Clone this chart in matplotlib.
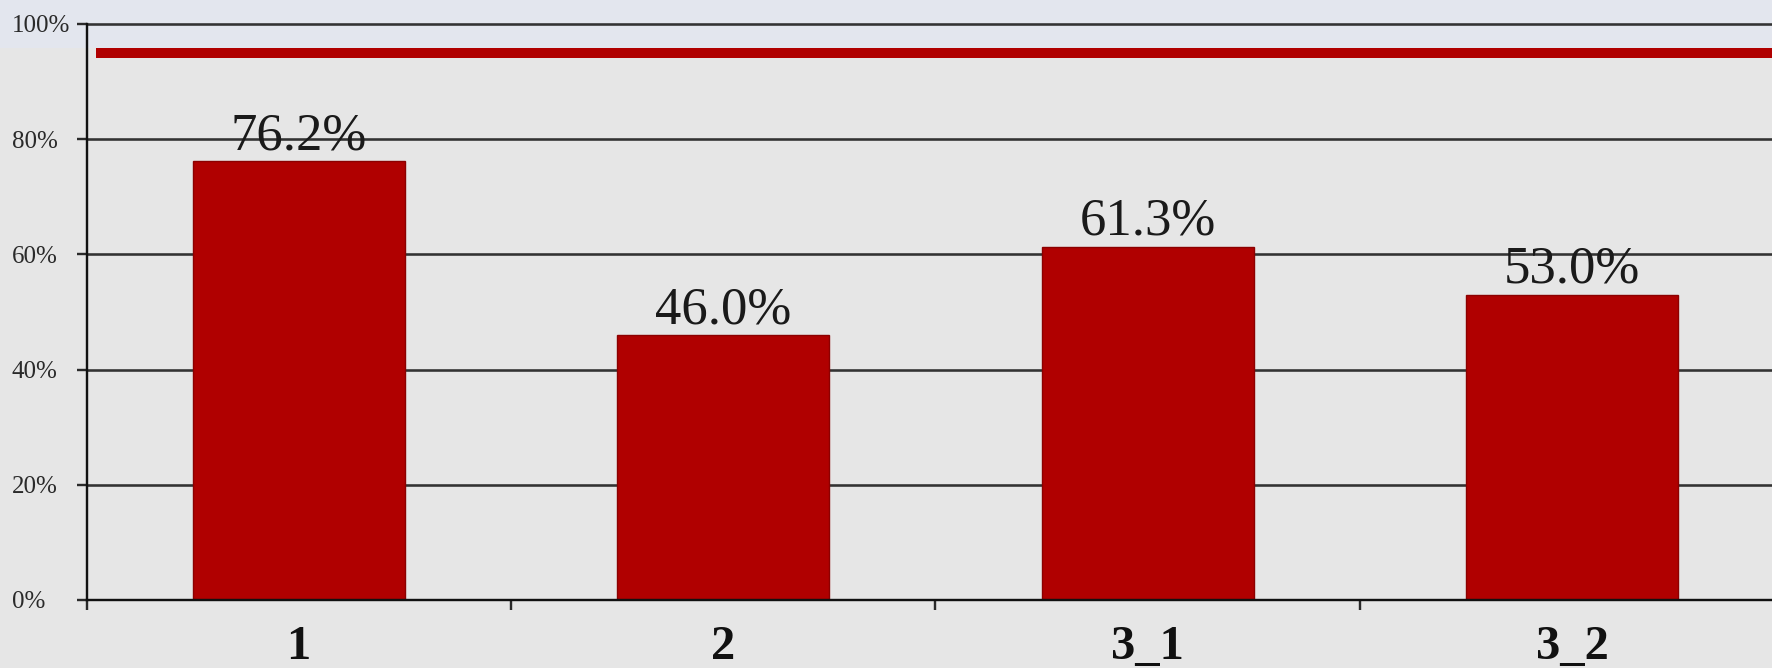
import matplotlib
matplotlib.use("Agg")
import matplotlib.pyplot as plt
from matplotlib.patches import Rectangle
from matplotlib.lines import Line2D
import matplotlib.transforms as mtransforms

categories = ["1", "2", "3_1", "3_2"]
values = [76.2, 46.0, 61.3, 53.0]
value_labels = ["76.2%", "46.0%", "61.3%", "53.0%"]
yticks = [0, 20, 40, 60, 80, 100]
ytick_labels = ["0%", "20%", "40%", "60%", "80%", "100%"]

W, H, DPI = 1772, 668, 100
fig = plt.figure(figsize=(W / DPI, H / DPI), dpi=DPI)
fig.patch.set_facecolor("#e6e6e6")

# top light band and red rule (slide decoration)
fig.patches.append(Rectangle((0, 1 - 48 / H), 1, 48 / H, transform=fig.transFigure,
                             facecolor="#e3e6ee", edgecolor="none", zorder=-5))
fig.lines.append(Line2D([96 / W, 1], [1 - 53 / H, 1 - 53 / H], transform=fig.transFigure,
                        color="#b00000", linewidth=10 * 72 / DPI, solid_capstyle="butt", zorder=10))

left_px, right_px = 86.5, 1784.5
bottom_px, top_px = 600, 24
ax = fig.add_axes([left_px / W, 1 - bottom_px / H, (right_px - left_px) / W, (bottom_px - top_px) / H])
ax.set_facecolor("none")
ax.set_zorder(2)

x = list(range(len(categories)))
ax.bar(x, values, width=0.5, color="#b00000", edgecolor="#8c0000", linewidth=1.0, zorder=3)
ax.set_xlim(-0.5, len(categories) - 0.5)
ax.set_ylim(0, 100)

serif = ["Liberation Serif", "DejaVu Serif"]

for xi, v, lab in zip(x, values, value_labels):
    ax.annotate(lab, (xi, v), xytext=(0, 12 * 72 / DPI), textcoords="offset points",
                ha="center", va="baseline", fontsize=38, family=serif, color="#1a1a1a", zorder=4)

# category labels (cut off at the bottom edge, as in the source slide)
trans = mtransforms.blended_transform_factory(ax.transData, ax.transAxes)
for xi, c in zip(x, categories):
    ax.text(xi, -59 / 576, c, transform=trans, ha="center", va="baseline",
            fontsize=35, fontweight="bold", family=serif, color="#111111")

# gridlines
for yv in yticks[1:]:
    ax.axhline(yv, color="#333333", linewidth=2.6 * 72 / DPI, zorder=2, clip_on=False)

for s in ["top", "right"]:
    ax.spines[s].set_visible(False)
for s in ["left", "bottom"]:
    ax.spines[s].set_color("#111111")
    ax.spines[s].set_linewidth(2.4 * 72 / DPI)
    ax.spines[s].set_zorder(5)

ax.set_yticks(yticks)
ax.set_yticklabels(ytick_labels, family=serif, fontsize=18, color="#2a2a2a", ha="left")
ax.tick_params(axis="y", length=10 * 72 / DPI, width=2.4 * 72 / DPI, color="#2a2a2a",
               pad=(86.5 - 10 - 12) * 72 / DPI, direction="out")
ax.set_xticks([-0.5, 0.5, 1.5, 2.5])
ax.set_xticklabels([])
ax.tick_params(axis="x", length=10 * 72 / DPI, width=2.4 * 72 / DPI, color="#2a2a2a", direction="out")

fig.savefig("out.png", dpi=DPI, facecolor=fig.get_facecolor())
